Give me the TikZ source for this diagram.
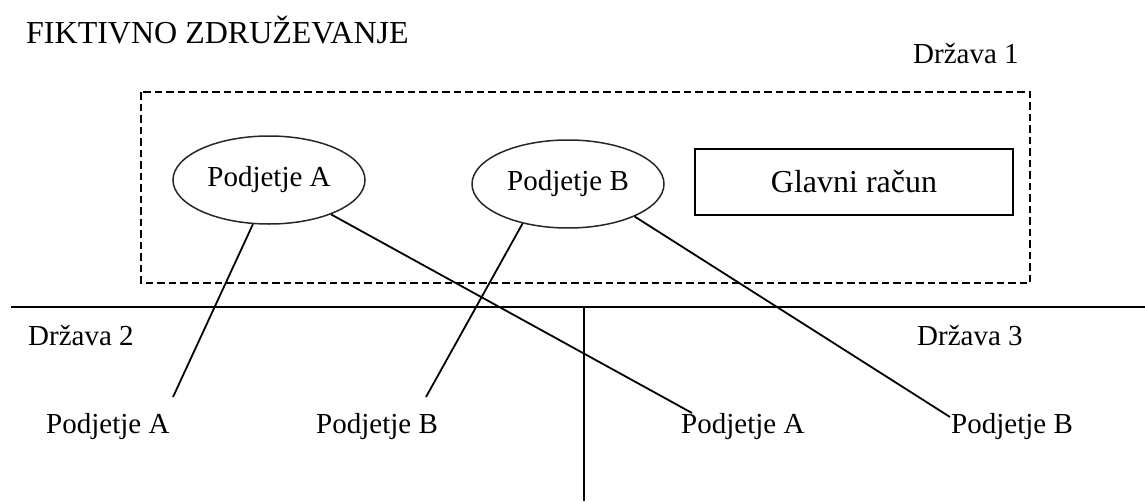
\documentclass[tikz,border=0pt]{standalone}
\usepackage{fontspec}
\setmainfont{Liberation Serif}
\usetikzlibrary{shapes.geometric}
\begin{document}
\begin{tikzpicture}[x=1pt,y=-1pt,
  lbl/.style={anchor=base west, inner sep=0pt, font=\fontsize{29}{34}\selectfont},
  firm/.style={draw=black!85, ellipse, line width=1.5pt, minimum width=192pt, minimum height=88pt,
               inner sep=0pt, font=\fontsize{29}{34}\selectfont},
  account/.style={draw, line width=1.7pt, minimum width=318pt, minimum height=66pt,
                  inner sep=0pt, font=\fontsize{32}{38}\selectfont},
  link/.style={line width=1.8pt},
  border/.style={line width=1.9pt},
  zone/.style={line width=1.7pt, dash pattern=on 7.5pt off 4pt}]
\useasboundingbox (0,0) rectangle (1145,501);

% title and country names
\node[lbl, font=\fontsize{32}{38}\selectfont] (title) at (26,43) {FIKTIVNO ZDRUŽEVANJE};
\node[lbl] (st1) at (913,63) {Država 1};
\node[lbl] (st2) at (28,345) {Država 2};
\node[lbl] (st3) at (917,345) {Država 3};

% country 1: the group
\draw[zone] (141,92) rectangle (1030,283);
\node[firm] (ea) at (269,180) {Podjetje A};
\node[firm] (eb) at (568,184) {Podjetje B};
\node[account] (acct) at (854,182) {Glavni račun};

% borders between countries
\coordinate (hl) at (11,307);
\coordinate (hr) at (1145,307);
\coordinate (vt) at (584,307);
\coordinate (vb) at (584,501);
\draw[border] (hl) -- (hr);
\draw[border] (vt) -- (vb);

% subsidiaries abroad
\node[lbl] (a2) at (46,433) {Podjetje A};
\node[lbl] (b2) at (316,433) {Podjetje B};
\node[lbl] (a3) at (681,433) {Podjetje A};
\node[lbl] (b3) at (951,433) {Podjetje B};

\coordinate (a2e) at (173,397);
\coordinate (b2e) at (426,397);
\coordinate (a3e) at (692,413);
\coordinate (b3e) at (950,417);

\draw[link] (ea.250) -- (a2e);
\draw[link] (ea.331) -- (a3e);
\draw[link] (eb.221) -- (b2e);
\draw[link] (eb.334) -- (b3e);
\end{tikzpicture}
\end{document}
